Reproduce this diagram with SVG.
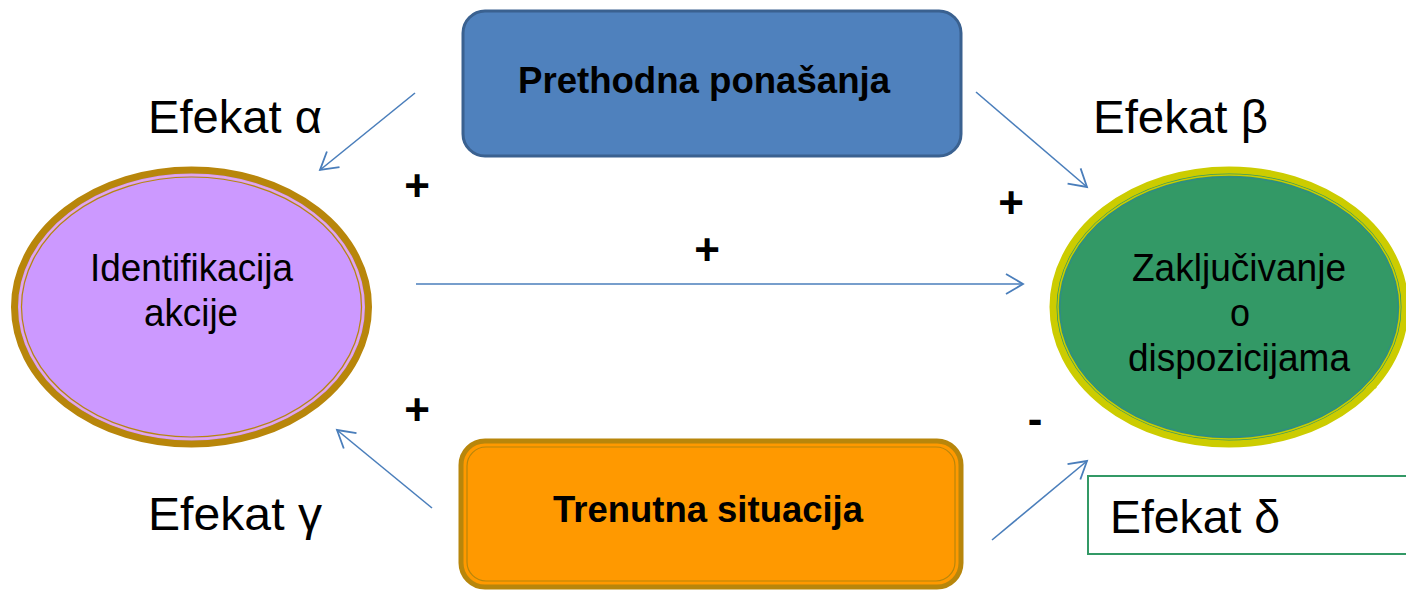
<svg xmlns="http://www.w3.org/2000/svg" width="1406" height="590" viewBox="0 0 1406 590">
<style>
.t{font-family:"Liberation Sans",Arial,sans-serif;fill:#000}
.b{font-weight:bold}
.c{stroke:#4A7EBB;stroke-width:1.6;fill:none}
</style>
<defs>
<marker id="ah" markerUnits="userSpaceOnUse" markerWidth="24" markerHeight="24" viewBox="-20 -12 24 24" refX="0" refY="0" orient="auto">
<path d="M-17,-10 L0,0 L-17,10" fill="none" stroke="#4A7EBB" stroke-width="1.8"/>
</marker>
</defs>
<rect width="1406" height="590" fill="#fff"/>

<g id="prethodna">
<rect x="463" y="11" width="498" height="145" rx="22" fill="#4F81BD" stroke="#3A6190" stroke-width="3"/>
<text class="t b" x="518" y="93" font-size="36" textLength="372" lengthAdjust="spacingAndGlyphs">Prethodna ponašanja</text>
</g>

<g id="identifikacija">
<ellipse cx="191.5" cy="307" rx="177" ry="137" fill="#CC99FF" stroke="#B8860B" stroke-width="7"/>
<ellipse cx="191.5" cy="307" rx="172" ry="132" fill="none" stroke="#E6A8E6" stroke-width="1.5"/>
<ellipse cx="191.5" cy="307" rx="170" ry="130" fill="none" stroke="#B8860B" stroke-width="1.2"/>
<text class="t" x="90" y="281" font-size="38" textLength="203" lengthAdjust="spacingAndGlyphs">Identifikacija</text>
<text class="t" x="144" y="326" font-size="38" textLength="94" lengthAdjust="spacingAndGlyphs">akcije</text>
</g>

<g id="zakljucivanje">
<ellipse cx="1229" cy="307" rx="176" ry="137" fill="#339966" stroke="#CCCC00" stroke-width="7"/>
<ellipse cx="1229" cy="307" rx="171" ry="132" fill="none" stroke="#CCCC00" stroke-width="1.5"/>
<ellipse cx="1229" cy="307" rx="169" ry="130" fill="none" stroke="#2E8B8B" stroke-width="1"/>
<text class="t" x="1132" y="281" font-size="38" textLength="214" lengthAdjust="spacingAndGlyphs">Zaključivanje</text>
<text class="t" x="1230" y="326" font-size="38" textLength="20" lengthAdjust="spacingAndGlyphs">o</text>
<text class="t" x="1128" y="371" font-size="38" textLength="222" lengthAdjust="spacingAndGlyphs">dispozicijama</text>
<path d="M1366,388 L1376,388 L1376,378 Z" fill="none" stroke="#CCCC00" stroke-width="1"/>
</g>

<g id="trenutna">
<rect x="461" y="441" width="500" height="146" rx="24" fill="#FF9900" stroke="#B8860B" stroke-width="5"/>
<rect x="467" y="447" width="488" height="134" rx="19" fill="none" stroke="#B8860B" stroke-width="1.2"/>
<text class="t b" x="553" y="522" font-size="36" textLength="310" lengthAdjust="spacingAndGlyphs">Trenutna situacija</text>
</g>

<g id="efekat-delta">
<rect x="1088" y="476" width="330" height="78" fill="#fff" stroke="#339966" stroke-width="2"/>
<text class="t" x="1110" y="533" font-size="46" textLength="170" lengthAdjust="spacingAndGlyphs">Efekat δ</text>
</g>

<g id="labels">
<text class="t" x="148" y="133" font-size="47" textLength="174" lengthAdjust="spacingAndGlyphs">Efekat α</text>
<text class="t" x="1093" y="133" font-size="47" textLength="175" lengthAdjust="spacingAndGlyphs">Efekat β</text>
<text class="t" x="148" y="530" font-size="47" textLength="174" lengthAdjust="spacingAndGlyphs">Efekat γ</text>
<text class="t b" x="417" y="201" font-size="44" text-anchor="middle">+</text>
<text class="t b" x="1011" y="218" font-size="44" text-anchor="middle">+</text>
<text class="t b" x="707" y="265" font-size="44" text-anchor="middle">+</text>
<text class="t b" x="417" y="425" font-size="44" text-anchor="middle">+</text>
<text class="t b" x="1035" y="434" font-size="44" text-anchor="middle">-</text>
</g>

<g id="connectors">
<line class="c" x1="415" y1="93" x2="320" y2="170" marker-end="url(#ah)"/>
<line class="c" x1="976" y1="92" x2="1087" y2="187" marker-end="url(#ah)"/>
<line class="c" x1="416" y1="284" x2="1023" y2="284" marker-end="url(#ah)"/>
<line class="c" x1="432" y1="508" x2="337" y2="430" marker-end="url(#ah)"/>
<line class="c" x1="992" y1="540" x2="1087" y2="461" marker-end="url(#ah)"/>
</g>
</svg>
